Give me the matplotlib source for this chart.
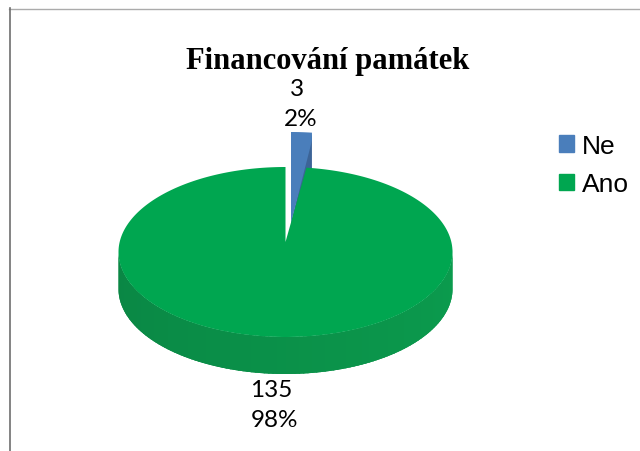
import numpy as np
import matplotlib.pyplot as plt
from matplotlib.patches import Patch

title = 'Financování památek'
categories = ['Ne', 'Ano']
counts = [3, 135]
percents = [2, 98]
colors = ['#4A7EBB', '#00A650']
dark_blue = '#3C6497'

# geometry of the tilted pie, in pixels
cx, cy = 285.5, 253
a, b = 167, 85
depth = 37


def arc(t0, t1, x0, y0, n=200):
    t = np.radians(np.linspace(t0, t1, n))
    return x0 + a * np.sin(t), y0 - b * np.cos(t)


fig = plt.figure(figsize=(6.4, 4.52), dpi=100)
ax = fig.add_axes([0, 0, 1, 1])
ax.set_xlim(0, 640)
ax.set_ylim(452, 0)
ax.axis('off')

# frame of the picture
ax.plot([9, 640], [9.5, 9.5], color='#ABABAB', lw=1)
ax.plot([9.5, 9.5], [9, 452], color='#6E6E6E', lw=1.2)

ang = 360 * percents[0] / sum(percents)

# exploded slice
bx, by = 291, 218
tip_y = by + 6
x, y = arc(0, ang, bx, by, 20)
ax.fill([bx, x[-1], x[-1], bx], [tip_y, y[-1], y[-1] + depth, tip_y + depth],
        color=dark_blue, lw=0)
ax.fill(np.r_[bx, x, x[-1]], np.r_[tip_y, y, y[-1] + 8], color=colors[0], lw=0)

# side wall, darker on the left
steps = np.linspace(270, 90, 121)
for t0, t1 in zip(steps[:-1], steps[1:]):
    x, y = arc(t1 - 2, t0, cx, cy, 8)
    k = (t0 - 90) / 180
    col = np.array([0x0B, 0x9C, 0x4E]) * (1 - k) + np.array([0x0A, 0x86, 0x44]) * k
    ax.fill(np.r_[x, x[::-1]], np.r_[y, y[::-1] + depth], color=col / 255, lw=0)

# main slice
x, y = arc(ang, 360, cx, cy, 400)
ax.fill(np.r_[cx, x], np.r_[cy - 10, y], color=colors[1], lw=0)

# labels
lab = dict(family='Lato', fontsize=17.5, color='black', ha='center', va='center')
ax.text(297, 90, str(counts[0]), **lab)
ax.text(301, 119, '%d%%' % percents[0], **lab)
ax.text(271, 391, str(counts[1]), **lab)
ax.text(274, 421, '%d%%' % percents[1], **lab)

ax.text(327.5, 62, title, family='Liberation Serif', fontweight='bold',
        fontsize=22, ha='center', va='center', color='black')

handles = [Patch(color=c, label=n) for c, n in zip(colors, categories)]
ax.legend(handles=handles, loc='upper left', bbox_to_anchor=(556 / 640, 1 - 132 / 452),
          frameon=False, prop=dict(family='Liberation Sans', size=19),
          handlelength=0.58, handleheight=0.58, handletextpad=0.3, labelspacing=0.55,
          borderpad=0, borderaxespad=0.1)

fig.savefig('out.png', dpi=100)
